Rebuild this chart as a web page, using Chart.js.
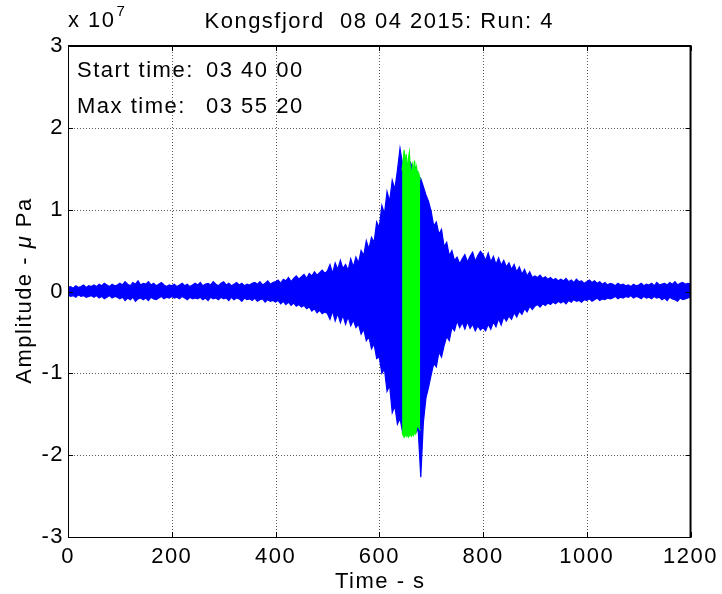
<!DOCTYPE html>
<html>
<head>
<meta charset="utf-8">
<script src="https://cdn.jsdelivr.net/npm/chart.js@4/dist/chart.umd.min.js"></script>
<style>
  html, body { margin: 0; padding: 0; background: #fff; }
  #wrap { width: 722px; height: 594px; position: relative; }
  canvas { display: block; }
</style>
</head>
<body>
<div id="wrap"><canvas id="c" width="722" height="594"></canvas></div>
<script>
// Hydrophone record, amplitude in units of 1e7 uPa, envelope peaks every 5 s
const STEP_S = 5;

const UPPER = [
  0.05,0.06,0.04,0.07,0.05,0.06,0.08,0.05,0.07,0.06,
  0.08,0.06,0.09,0.07,0.10,0.08,0.06,0.09,0.07,0.08,
  0.10,0.08,0.12,0.09,0.07,0.11,0.09,0.13,0.08,0.10,
  0.09,0.12,0.08,0.10,0.07,0.09,0.11,0.08,0.06,0.08,
  0.07,0.09,0.06,0.08,0.10,0.07,0.09,0.06,0.08,0.10,
  0.08,0.11,0.07,0.09,0.10,0.08,0.12,0.09,0.07,0.10,
  0.12,0.08,0.10,0.07,0.09,0.11,0.08,0.10,0.07,0.09,
  0.08,0.10,0.11,0.09,0.12,0.08,0.10,0.13,0.09,0.11,
  0.12,0.14,0.10,0.15,0.13,0.17,0.12,0.16,0.19,0.15,
  0.18,0.21,0.16,0.22,0.19,0.24,0.20,0.23,0.26,0.22,
  0.25,0.33,0.22,0.35,0.27,0.38,0.28,0.33,0.26,0.40,
  0.30,0.42,0.35,0.50,0.44,0.62,0.52,0.66,0.60,0.85,
  0.78,1.05,0.95,1.22,1.10,1.36,1.25,1.48,1.75,1.55,
  1.60,1.55,1.58,1.50,1.52,1.42,1.38,1.28,1.18,1.10,
  0.98,0.80,0.85,0.70,0.76,0.55,0.60,0.44,0.50,0.38,
  0.42,0.34,0.40,0.45,0.36,0.43,0.48,0.37,0.44,0.49,
  0.45,0.38,0.47,0.36,0.43,0.33,0.41,0.32,0.38,0.30,
  0.35,0.27,0.33,0.24,0.30,0.21,0.27,0.19,0.24,0.17,
  0.19,0.17,0.20,0.16,0.18,0.15,0.17,0.14,0.16,0.13,
  0.15,0.13,0.16,0.12,0.14,0.11,0.15,0.12,0.13,0.10,
  0.12,0.14,0.11,0.13,0.10,0.12,0.09,0.11,0.08,0.10,
  0.09,0.07,0.10,0.08,0.09,0.07,0.08,0.06,0.09,0.07,
  0.08,0.10,0.07,0.09,0.08,0.10,0.07,0.11,0.08,0.09,
  0.10,0.08,0.11,0.09,0.12,0.08,0.10,0.11,0.09,0.10,
  0.09
];

const LOWER = [
  -0.04,-0.06,-0.05,-0.07,-0.04,-0.06,-0.05,-0.07,-0.06,-0.05,
  -0.07,-0.05,-0.08,-0.06,-0.09,-0.07,-0.05,-0.08,-0.06,-0.07,
  -0.09,-0.07,-0.11,-0.08,-0.10,-0.07,-0.12,-0.09,-0.08,-0.10,
  -0.08,-0.11,-0.07,-0.09,-0.10,-0.08,-0.06,-0.09,-0.07,-0.08,
  -0.06,-0.08,-0.07,-0.09,-0.06,-0.08,-0.10,-0.07,-0.09,-0.08,
  -0.09,-0.07,-0.10,-0.08,-0.11,-0.07,-0.09,-0.08,-0.10,-0.07,
  -0.09,-0.08,-0.11,-0.07,-0.10,-0.08,-0.09,-0.12,-0.08,-0.10,
  -0.09,-0.11,-0.08,-0.12,-0.10,-0.09,-0.13,-0.10,-0.12,-0.11,
  -0.13,-0.11,-0.15,-0.12,-0.16,-0.13,-0.17,-0.14,-0.18,-0.16,
  -0.19,-0.17,-0.21,-0.19,-0.24,-0.21,-0.26,-0.23,-0.27,-0.25,
  -0.27,-0.34,-0.24,-0.36,-0.27,-0.38,-0.29,-0.40,-0.31,-0.42,
  -0.35,-0.44,-0.40,-0.52,-0.46,-0.60,-0.55,-0.70,-0.64,-0.82,
  -0.80,-1.00,-0.95,-1.22,-1.15,-1.48,-1.40,-1.62,-1.55,-1.72,
  -1.72,-1.70,-1.74,-1.72,-1.73,-1.68,-2.27,-1.60,-1.30,-1.17,
  -1.02,-0.88,-0.92,-0.74,-0.80,-0.66,-0.55,-0.60,-0.44,-0.48,
  -0.36,-0.44,-0.38,-0.46,-0.37,-0.45,-0.40,-0.48,-0.42,-0.47,
  -0.44,-0.48,-0.40,-0.46,-0.37,-0.43,-0.33,-0.41,-0.31,-0.36,
  -0.30,-0.34,-0.26,-0.31,-0.24,-0.28,-0.21,-0.25,-0.18,-0.22,
  -0.18,-0.16,-0.19,-0.15,-0.17,-0.14,-0.16,-0.13,-0.15,-0.12,
  -0.14,-0.12,-0.15,-0.11,-0.13,-0.10,-0.12,-0.11,-0.13,-0.10,
  -0.11,-0.09,-0.12,-0.10,-0.08,-0.11,-0.09,-0.10,-0.08,-0.09,
  -0.08,-0.06,-0.09,-0.07,-0.08,-0.06,-0.07,-0.05,-0.08,-0.06,
  -0.07,-0.09,-0.06,-0.08,-0.07,-0.09,-0.06,-0.08,-0.07,-0.10,
  -0.08,-0.11,-0.07,-0.09,-0.10,-0.12,-0.08,-0.10,-0.09,-0.08,
  -0.07
];

// Window around the maximum, highlighted in green
const PEAK_TIME = [644, 646, 648, 650, 652, 654, 656, 658, 660, 662, 664, 666, 668, 670, 672, 674, 676, 679];
const PEAK_UPPER = [1.48, 1.60, 1.73, 1.55, 1.68, 1.45, 1.62, 1.70, 1.50, 1.42, 1.55, 1.48, 1.60, 1.44, 1.52, 1.40, 1.45, 1.36];
const PEAK_LOWER = [-1.72, -1.76, -1.78, -1.75, -1.77, -1.74, -1.78, -1.76, -1.75, -1.77, -1.74, -1.76, -1.72, -1.74, -1.68, -1.62, -1.66, -1.70];

const X_TICKS = [0, 200, 400, 600, 800, 1000, 1200];
const Y_TICKS = [-3, -2, -1, 0, 1, 2, 3];

const TITLE = 'Kongsfjord  08 04 2015: Run: 4';
const X_LABEL = 'Time - s';
const INFO_LINES = [['Start time:', '03 40 00'], ['Max time:', '03 55 20']];

const FONT = '"Liberation Sans", Arial, Helvetica, sans-serif';
const SPACING = '1.5px';
const BLUE = '#0000ff';
const GREEN = '#00ff00';

const TIME_S = UPPER.map((_, i) => i * STEP_S);
const pts = (xs, ys) => xs.map((x, i) => ({ x, y: ys[i] }));

const frame = {
  id: 'frame',
  beforeDraw(chart) {
    chart.ctx.letterSpacing = SPACING;
  },
  beforeDatasetsDraw(chart) {
    const { ctx, chartArea: a, scales: { x, y } } = chart;
    ctx.save();
    ctx.strokeStyle = '#5a5a5a';
    ctx.lineWidth = 1;
    ctx.setLineDash([1, 2]);
    X_TICKS.slice(1, -1).forEach(v => {
      const px = Math.round(x.getPixelForValue(v)) + 0.5;
      ctx.beginPath(); ctx.moveTo(px, a.top); ctx.lineTo(px, a.bottom); ctx.stroke();
    });
    Y_TICKS.slice(1, -1).forEach(v => {
      const py = Math.round(y.getPixelForValue(v)) + 0.5;
      ctx.beginPath(); ctx.moveTo(a.left, py); ctx.lineTo(a.right, py); ctx.stroke();
    });
    ctx.restore();
  },
  afterDraw(chart) {
    const { ctx, chartArea: a, scales: { x, y } } = chart;
    ctx.save();
    ctx.setLineDash([]);
    ctx.strokeStyle = '#000';
    // axes box
    ctx.lineWidth = 1;
    ctx.beginPath();
    ctx.moveTo(a.left + 0.5, a.top); ctx.lineTo(a.left + 0.5, a.bottom + 0.5);
    ctx.lineTo(a.right, a.bottom + 0.5);
    ctx.stroke();
    ctx.lineWidth = 2;
    ctx.beginPath();
    ctx.moveTo(a.left, a.top); ctx.lineTo(a.right, a.top); ctx.lineTo(a.right, a.bottom + 1);
    ctx.stroke();
    // inward tick marks on all four sides
    ctx.lineWidth = 1;
    const TL = 5;
    X_TICKS.forEach(v => {
      const px = Math.round(x.getPixelForValue(v)) + 0.5;
      ctx.beginPath();
      ctx.moveTo(px, a.bottom); ctx.lineTo(px, a.bottom - TL);
      ctx.moveTo(px, a.top); ctx.lineTo(px, a.top + TL);
      ctx.stroke();
    });
    Y_TICKS.forEach(v => {
      const py = Math.round(y.getPixelForValue(v)) + 0.5;
      ctx.beginPath();
      ctx.moveTo(a.left, py); ctx.lineTo(a.left + TL, py);
      ctx.moveTo(a.right, py); ctx.lineTo(a.right - TL, py);
      ctx.stroke();
    });

    ctx.fillStyle = '#000';
    ctx.letterSpacing = SPACING;
    ctx.font = '22px ' + FONT;
    ctx.textBaseline = 'alphabetic';

    // title
    ctx.textAlign = 'center';
    ctx.fillText(TITLE, (a.left + a.right) / 2, 28);

    // x axis label
    ctx.fillText(X_LABEL, (a.left + a.right) / 2 + 1, 588);

    // exponent of the y axis
    ctx.textAlign = 'left';
    ctx.fillText('x 10', a.left, 27);
    const w10 = ctx.measureText('x 10').width;
    ctx.font = '15px ' + FONT;
    ctx.fillText('7', a.left + w10 + 1, 16);

    // info text inside the axes
    ctx.font = '22px ' + FONT;
    INFO_LINES.forEach(([lab, val], i) => {
      const by = 77 + i * 36;
      ctx.fillText(lab, 77, by);
      ctx.fillText(val, 206, by);
    });

    // y axis label, rotated, with italic mu
    const parts = [['Amplitude - ', 'normal'], ['\u03bc', 'italic'], [' Pa', 'normal']];
    const widths = parts.map(([s, st]) => {
      ctx.font = (st === 'italic' ? 'italic ' : '') + '22px ' + FONT;
      return ctx.measureText(s).width;
    });
    const total = widths.reduce((p, c) => p + c, 0);
    ctx.translate(31, (a.top + a.bottom) / 2 - 1);
    ctx.rotate(-Math.PI / 2);
    let cx = -total / 2;
    parts.forEach(([s, st], i) => {
      ctx.font = (st === 'italic' ? 'italic ' : '') + '22px ' + FONT;
      ctx.fillText(s, cx, 0);
      cx += widths[i];
    });
    ctx.restore();
  }
};

const bandLine = (color) => ({
  borderColor: color,
  backgroundColor: color,
  borderWidth: 1.2,
  pointRadius: 0,
  tension: 0
});

new Chart(document.getElementById('c'), {
  type: 'line',
  data: {
    datasets: [
      Object.assign({ label: 'peak upper', data: pts(PEAK_TIME, PEAK_UPPER), fill: '+1' }, bandLine(GREEN)),
      Object.assign({ label: 'peak lower', data: pts(PEAK_TIME, PEAK_LOWER), fill: false }, bandLine(GREEN)),
      Object.assign({ label: 'upper', data: pts(TIME_S, UPPER), fill: '+1' }, bandLine(BLUE)),
      Object.assign({ label: 'lower', data: pts(TIME_S, LOWER), fill: false }, bandLine(BLUE))
    ]
  },
  options: {
    responsive: false,
    animation: false,
    devicePixelRatio: 1,
    layout: { padding: { left: 0, right: 29, top: 46, bottom: 0 } },
    plugins: { legend: { display: false }, tooltip: { enabled: false }, title: { display: false } },
    scales: {
      x: {
        type: 'linear', min: 0, max: 1200, position: 'bottom',
        afterBuildTicks: s => { s.ticks = X_TICKS.map(v => ({ value: v })); },
        ticks: { padding: 7, color: '#000', maxRotation: 0, autoSkip: false,
                 font: { family: FONT, size: 22 }, callback: v => String(v) },
        grid: { display: false, drawTicks: false },
        border: { display: false },
        afterFit: s => { s.height = 57; }
      },
      y: {
        type: 'linear', min: -3, max: 3, position: 'left',
        afterBuildTicks: s => { s.ticks = Y_TICKS.map(v => ({ value: v })); },
        ticks: { padding: 4, color: '#000', font: { family: FONT, size: 22 }, callback: v => String(v) },
        grid: { display: false, drawTicks: false },
        border: { display: false },
        afterFit: s => { s.width = 68; }
      }
    }
  },
  plugins: [frame]
});
</script>
</body>
</html>
